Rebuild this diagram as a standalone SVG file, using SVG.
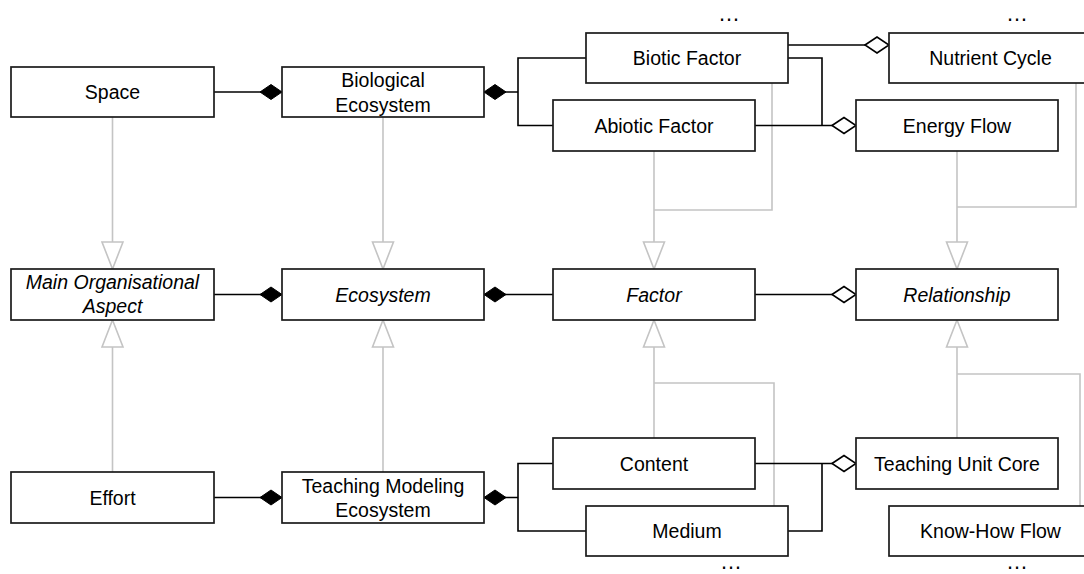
<svg xmlns="http://www.w3.org/2000/svg" width="1084" height="574" viewBox="0 0 1084 574">
<defs>
<style>
.box{fill:#fff;stroke:#1a1a1a;stroke-width:1.7}
.t{font-family:"Liberation Sans",Arial,sans-serif;font-size:19.5px;fill:#000;text-anchor:middle}
.i{font-style:italic}
.dots{font-family:"Liberation Sans",Arial,sans-serif;font-size:22px;fill:#000;text-anchor:middle}
.ln{fill:none;stroke:#000;stroke-width:1.6}
.gen{fill:none;stroke:#c4c4c4;stroke-width:1.6}
</style>
<marker id="comp" viewBox="0 0 24 18" refX="23" refY="9" markerWidth="24" markerHeight="18" markerUnits="userSpaceOnUse" orient="auto">
<path d="M1,9 L12,1.5 L23,9 L12,16.5 Z" fill="#000" stroke="#000" stroke-width="1"/>
</marker>
<marker id="agg" viewBox="0 0 26 20" refX="25" refY="10" markerWidth="26" markerHeight="20" markerUnits="userSpaceOnUse" orient="auto">
<path d="M1,10 L13,2 L25,10 L13,18 Z" fill="#fff" stroke="#000" stroke-width="1.6"/>
</marker>
<marker id="tri" viewBox="0 0 29 24" refX="28" refY="12" markerWidth="29" markerHeight="24" markerUnits="userSpaceOnUse" orient="auto">
<path d="M1,1.5 L28,12 L1,22.5 Z" fill="#fff" stroke="#c4c4c4" stroke-width="1.6"/>
</marker>
</defs>
<rect width="1084" height="574" fill="#fff"/>

<g id="connectors">
<!-- generalizations -->
<path class="gen" d="M112.5,117 V269" marker-end="url(#tri)"/>
<path class="gen" d="M383,117 V269" marker-end="url(#tri)"/>
<path class="gen" d="M112.5,472 V320" marker-end="url(#tri)"/>
<path class="gen" d="M383,472 V320" marker-end="url(#tri)"/>
<path class="gen" d="M772,83 V210 H654"/>
<path class="gen" d="M654,151 V269" marker-end="url(#tri)"/>
<path class="gen" d="M1076,83 V207 H957"/>
<path class="gen" d="M957,151 V269" marker-end="url(#tri)"/>
<path class="gen" d="M774,506 V383 H654"/>
<path class="gen" d="M654,438 V320" marker-end="url(#tri)"/>
<path class="gen" d="M1080,506 V374 H957"/>
<path class="gen" d="M957,438 V320" marker-end="url(#tri)"/>
<!-- compositions -->
<path class="ln" d="M214,92 H282" marker-end="url(#comp)"/>
<path class="ln" d="M214,294.5 H282" marker-end="url(#comp)"/>
<path class="ln" d="M214,497.5 H282" marker-end="url(#comp)"/>
<path class="ln" d="M586,58 H518 V125.5 H553"/>
<path class="ln" d="M518,92 H484" marker-end="url(#comp)"/>
<path class="ln" d="M553,294.5 H484" marker-end="url(#comp)"/>
<path class="ln" d="M553,463.5 H518 V531 H586"/>
<path class="ln" d="M518,497.5 H484" marker-end="url(#comp)"/>
<!-- aggregations -->
<path class="ln" d="M788,45 H889" marker-end="url(#agg)"/>
<path class="ln" d="M788,58 H822 V125.5"/>
<path class="ln" d="M755,125.5 H856" marker-end="url(#agg)"/>
<path class="ln" d="M755,294.5 H856" marker-end="url(#agg)"/>
<path class="ln" d="M788,531 H822 V463.5"/>
<path class="ln" d="M755,463.5 H856" marker-end="url(#agg)"/>
</g>

<g id="space"><rect class="box" x="11" y="67" width="203" height="50"/><text class="t" x="112.5" y="99">Space</text></g>
<g id="biological-ecosystem"><rect class="box" x="282" y="67" width="202" height="50"/><text class="t" x="383" y="87">Biological</text><text class="t" x="383" y="111.5">Ecosystem</text></g>
<g id="biotic-factor"><rect class="box" x="586" y="33" width="202" height="50"/><text class="t" x="687" y="65">Biotic Factor</text></g>
<g id="abiotic-factor"><rect class="box" x="553" y="100" width="202" height="51"/><text class="t" x="654" y="132.5">Abiotic Factor</text></g>
<g id="nutrient-cycle"><rect class="box" x="889" y="33" width="203" height="50"/><text class="t" x="990.5" y="65">Nutrient Cycle</text></g>
<g id="energy-flow"><rect class="box" x="856" y="100" width="202" height="51"/><text class="t" x="957" y="132.5">Energy Flow</text></g>
<g id="main-organisational-aspect"><rect class="box" x="11" y="269" width="203" height="51"/><text class="t i" x="112.5" y="288.5">Main Organisational</text><text class="t i" x="112.5" y="313">Aspect</text></g>
<g id="ecosystem"><rect class="box" x="282" y="269" width="202" height="51"/><text class="t i" x="383" y="301.5">Ecosystem</text></g>
<g id="factor"><rect class="box" x="553" y="269" width="202" height="51"/><text class="t i" x="654" y="301.5">Factor</text></g>
<g id="relationship"><rect class="box" x="856" y="269" width="202" height="51"/><text class="t i" x="957" y="301.5">Relationship</text></g>
<g id="effort"><rect class="box" x="11" y="472" width="203" height="51"/><text class="t" x="112.5" y="504.5">Effort</text></g>
<g id="teaching-modeling-ecosystem"><rect class="box" x="282" y="472" width="202" height="51"/><text class="t" x="383" y="492.5">Teaching Modeling</text><text class="t" x="383" y="517">Ecosystem</text></g>
<g id="content"><rect class="box" x="553" y="438" width="202" height="51"/><text class="t" x="654" y="470.5">Content</text></g>
<g id="medium"><rect class="box" x="586" y="506" width="202" height="50"/><text class="t" x="687" y="538">Medium</text></g>
<g id="teaching-unit-core"><rect class="box" x="856" y="438" width="202" height="51"/><text class="t" x="957" y="470.5">Teaching Unit Core</text></g>
<g id="know-how-flow"><rect class="box" x="889" y="506" width="203" height="50"/><text class="t" x="990.5" y="538">Know-How Flow</text></g>

<g id="ellipses">
<text class="dots" x="729" y="20.5">…</text>
<text class="dots" x="1017" y="20.5">…</text>
<text class="dots" x="731" y="569">…</text>
<text class="dots" x="1017" y="569">…</text>
</g>
</svg>
